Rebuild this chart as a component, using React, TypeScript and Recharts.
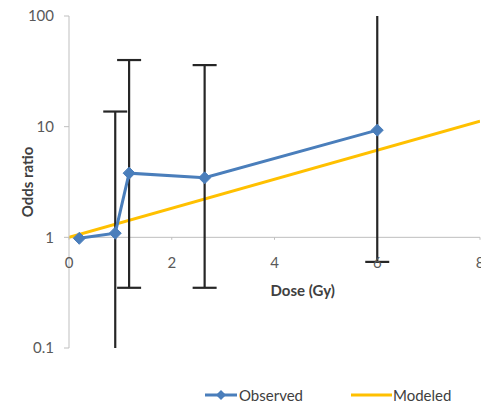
import React from 'react';
import {
  ComposedChart, Line, XAxis, YAxis, ErrorBar, ReferenceLine, ReferenceDot, Legend,
} from 'recharts';

// Observed odds ratios by dose, with confidence bounds (null = no bar shown)
const doses = [0.2, 0.9, 1.17, 2.64, 6.0];
const observedOR = [0.98, 1.09, 3.8, 3.45, 9.3];
const lowerCI: (number | null)[] = [null, 0.09, 0.35, 0.35, 0.6];
const upperCI: (number | null)[] = [null, 13.7, 40, 36, 150];

// Modeled (linear in log scale) endpoints
const modeledDose = [0, 8];
const modeledOR = [1.0, 11.2];

const xTicks = [0, 2, 4, 6, 8];
const yTicks = [0.1, 1, 10, 100];

const observedData = doses.map((d, i) => {
  const lo = lowerCI[i];
  const hi = upperCI[i];
  return {
    dose: d,
    observed: observedOR[i],
    err: lo == null || hi == null ? null : [observedOR[i] - lo, hi - observedOR[i]],
  };
});
const modeledData = modeledDose.map((d, i) => ({ dose: d, modeled: modeledOR[i] }));

const FONT = 'Lato, "Open Sans", sans-serif';
const BLUE = '#4A7EBB';
const GOLD = '#FFC000';

const Diamond = (props: any) => {
  const { cx, cy, index } = props;
  if (cx == null || cy == null) return <g key={index} />;
  const r = 6;
  return (
    <path
      key={index}
      d={`M${cx},${cy - r}L${cx + r},${cy}L${cx},${cy + r}L${cx - r},${cy}Z`}
      fill={BLUE}
      stroke={BLUE}
    />
  );
};

const LegendContent = () => (
  <div style={{ display: 'flex', alignItems: 'center', fontFamily: FONT, fontSize: 15, color: '#404040' }}>
    <svg width={32} height={14} style={{ position: 'absolute', left: 205, top: 4 }}>
      <line x1={0} y1={7} x2={32} y2={7} stroke={BLUE} strokeWidth={3} />
      <path d="M16,2L21,7L16,12L11,7Z" fill={BLUE} />
    </svg>
    <span style={{ position: 'absolute', left: 239, top: 0, lineHeight: '22px' }}>Observed</span>
    <svg width={41} height={14} style={{ position: 'absolute', left: 351, top: 4 }}>
      <line x1={0} y1={7} x2={41} y2={7} stroke={GOLD} strokeWidth={3} />
    </svg>
    <span style={{ position: 'absolute', left: 393, top: 0, lineHeight: '22px' }}>Modeled</span>
  </div>
);

export default function App() {
  return (
    <div style={{ position: 'absolute', left: 0, top: 0, background: '#fff' }}>
      <ComposedChart
        width={481}
        height={405}
        margin={{ top: 16, right: 1, left: 0, bottom: 57 }}
        style={{ fontFamily: FONT }}
      >
        <defs>
          <clipPath id="plot-area-clip">
            <rect x={60} y={16} width={421} height={332} />
          </clipPath>
        </defs>
        <XAxis dataKey="dose" type="number" domain={[0, 8]} ticks={xTicks} hide allowDataOverflow />
        <YAxis
          scale="log"
          type="number"
          domain={[0.1, 100]}
          ticks={yTicks}
          allowDataOverflow
          width={69}
          stroke="#BFBFBF"
          tickSize={5}
          tickMargin={10}
          tick={{ fill: '#595959', fontSize: 15, fontFamily: FONT }}
          tickFormatter={(v: number) => String(v)}
          label={{
            value: 'Odds ratio',
            angle: -90,
            position: 'insideLeft',
            dx: 23,
            style: { fontWeight: 700, fontSize: 15, fill: '#404040', fontFamily: FONT, textAnchor: 'middle' },
          }}
        />
        <ReferenceLine y={1} stroke="#BFBFBF" strokeWidth={1} ifOverflow="extendDomain" />
        {xTicks.map((t) => (
          <ReferenceLine
            key={'tk' + t}
            segment={[{ x: t, y: 1 }, { x: t, y: 0.95 }]}
            stroke="#BFBFBF"
          />
        ))}
        {xTicks.map((t) => (
          <ReferenceDot
            key={'tl' + t}
            x={t}
            y={1}
            r={0}
            fill="none"
            stroke="none"
            label={{ value: String(t), position: 'bottom', offset: 20, fill: '#595959', fontSize: 15, fontFamily: FONT }}
          />
        ))}
        <ReferenceDot
          x={4.55}
          y={0.33}
          r={0}
          fill="none"
          stroke="none"
          label={{ value: 'Dose (Gy)', position: 'center', fill: '#404040', fontSize: 15, fontWeight: 700, fontFamily: FONT }}
        />
        <Line
          data={modeledData}
          dataKey="modeled"
          name="Modeled"
          stroke={GOLD}
          strokeWidth={3}
          dot={false}
          isAnimationActive={false}
        />
        <Line
          data={observedData}
          dataKey="observed"
          name="Observed"
          stroke={BLUE}
          strokeWidth={3}
          dot={Diamond}
          activeDot={false}
          isAnimationActive={false}
        >
          <ErrorBar
            dataKey="err"
            width={12}
            strokeWidth={2.2}
            stroke="#262626"
            direction="y"
            clipPath="url(#plot-area-clip)"
          />
        </Line>
        <Legend
          verticalAlign="middle"
          layout="horizontal"
          content={LegendContent}
          wrapperStyle={{ position: 'absolute', top: 384, left: 0, width: 481, height: 22 }}
        />
      </ComposedChart>
    </div>
  );
}
